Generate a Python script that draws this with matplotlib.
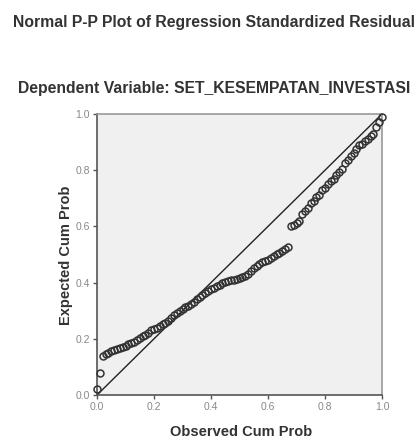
import matplotlib.pyplot as plt

plt.rcParams['font.family'] = ['Liberation Sans', 'DejaVu Sans']

# observed vs expected cumulative probabilities
observed = [0.00, 0.01, 0.02, 0.03, 0.04, 0.05, 0.06, 0.07, 0.08, 0.09,
            0.10, 0.11, 0.12, 0.13, 0.14, 0.15, 0.16, 0.17, 0.18, 0.19,
            0.20, 0.21, 0.22, 0.23, 0.24, 0.25, 0.26, 0.27, 0.28, 0.29,
            0.30, 0.31, 0.32, 0.33, 0.34, 0.35, 0.36, 0.37, 0.38, 0.39,
            0.40, 0.41, 0.42, 0.43, 0.44, 0.45, 0.46, 0.47, 0.48, 0.49,
            0.50, 0.51, 0.52, 0.53, 0.54, 0.55, 0.56, 0.57, 0.58, 0.59,
            0.60, 0.61, 0.62, 0.63, 0.64, 0.65, 0.66, 0.67, 0.68, 0.69,
            0.70, 0.71, 0.72, 0.73, 0.74, 0.75, 0.76, 0.77, 0.78, 0.79,
            0.80, 0.81, 0.82, 0.83, 0.84, 0.85, 0.86, 0.87, 0.88, 0.89,
            0.90, 0.91, 0.92, 0.93, 0.94, 0.95, 0.96, 0.97, 0.98, 0.99,
            1.00]
expected = [0.020, 0.080, 0.140, 0.145, 0.150, 0.155, 0.160, 0.163, 0.167, 0.172,
            0.176, 0.180, 0.184, 0.190, 0.196, 0.203, 0.210, 0.215, 0.222, 0.230,
            0.235, 0.240, 0.245, 0.252, 0.258, 0.265, 0.275, 0.283, 0.292, 0.300,
            0.307, 0.313, 0.318, 0.325, 0.332, 0.340, 0.348, 0.355, 0.362, 0.370,
            0.376, 0.382, 0.388, 0.393, 0.398, 0.402, 0.405, 0.408, 0.411, 0.414,
            0.417, 0.420, 0.424, 0.432, 0.443, 0.452, 0.460, 0.467, 0.472, 0.477,
            0.482, 0.488, 0.494, 0.500, 0.506, 0.512, 0.518, 0.528, 0.600, 0.605,
            0.612, 0.620, 0.645, 0.655, 0.665, 0.684, 0.690, 0.705, 0.712, 0.728,
            0.738, 0.750, 0.760, 0.770, 0.782, 0.795, 0.805, 0.825, 0.838, 0.850,
            0.862, 0.875, 0.888, 0.895, 0.905, 0.912, 0.920, 0.930, 0.955, 0.972,
            0.990]
ticks = [0.0, 0.2, 0.4, 0.6, 0.8, 1.0]
tick_labels = ['0.0', '0.2', '0.4', '0.6', '0.8', '1.0']

fig = plt.figure(figsize=(4.16, 4.38), dpi=100)
fig.patch.set_facecolor('white')
ax = fig.add_axes([97 / 416, 1 - 395 / 438, 285 / 416, 281 / 438])
ax.set_facecolor('#f0f0f0')

ax.plot([0, 1], [0, 1], color='#222222', lw=1.0, zorder=2)
ax.plot(observed, expected, 'o', ms=5, mfc='none', mec='#333333', mew=1.1,
        zorder=3, clip_on=False)

ax.set_xlim(0, 1)
ax.set_ylim(0, 1)
ax.set_xticks(ticks)
ax.set_xticklabels(tick_labels)
ax.set_yticks(ticks)
ax.set_yticklabels(tick_labels)
ax.tick_params(length=3, width=1, color='#555555', labelsize=7.5,
               labelcolor='#888888', pad=2)

for side in ['left', 'bottom']:
    ax.spines[side].set_color('#555555')
    ax.spines[side].set_linewidth(1.2)
for side in ['top', 'right']:
    ax.spines[side].set_color('#999999')
    ax.spines[side].set_linewidth(1.2)

# axis titles placed where the reference has them
fig.text(241 / 416, 1 - 432 / 438, 'Observed Cum Prob', ha='center', va='center',
         fontsize=10.5, fontweight='bold', color='#333333')
fig.text(66 / 416, 1 - 255 / 438, 'Expected Cum Prob', ha='center', va='center',
         rotation=90, fontsize=10.5, fontweight='bold', color='#333333')

fig.text(214 / 416, 1 - 22 / 438, 'Normal P-P Plot of Regression Standardized Residual',
         ha='center', va='center', fontsize=11.3, fontweight='bold', color='#333333')
fig.text(214 / 416, 1 - 89 / 438, 'Dependent Variable: SET_KESEMPATAN_INVESTASI',
         ha='center', va='center', fontsize=11.3, fontweight='bold', color='#333333')

fig.savefig('out.png', dpi=100)
